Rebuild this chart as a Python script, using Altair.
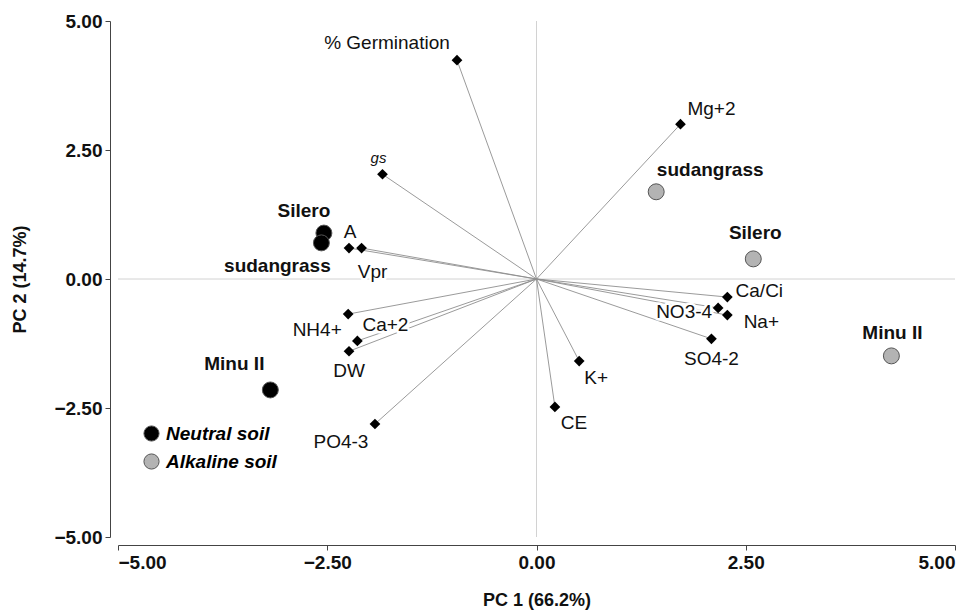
import altair as alt
import pandas as pd

# ---------------- data ----------------
var_names = ["% Germination", "gs", "A", "Vpr", "NH4+", "Ca+2", "DW", "PO4-3",
             "Mg+2", "Ca/Ci", "NO3-4", "Na+", "SO4-2", "K+", "CE"]
var_pc1 = [-0.95, -1.84, -2.24, -2.09, -2.25, -2.14, -2.24, -1.93,
           1.72, 2.28, 2.17, 2.28, 2.09, 0.51, 0.22]
var_pc2 = [4.24, 2.03, 0.60, 0.60, -0.68, -1.20, -1.40, -2.81,
           3.00, -0.35, -0.56, -0.70, -1.16, -1.59, -2.48]

sample_names = ["Silero", "sudangrass", "Minu II", "sudangrass", "Silero", "Minu II"]
sample_soil = ["Neutral soil", "Neutral soil", "Neutral soil",
               "Alkaline soil", "Alkaline soil", "Alkaline soil"]
sample_pc1 = [-2.54, -2.57, -3.18, 1.43, 2.59, 4.24]
sample_pc2 = [0.89, 0.70, -2.15, 1.69, 0.39, -1.49]

soil_types = ["Neutral soil", "Alkaline soil"]
axis_ticks = [-5, -2.5, 0, 2.5, 5]

# ---------------- style (label placement in pixels) ----------------
var_label_offsets = [(-70, -17), (-4, -16), (1, -16), (11, 24), (-31, 16), (28, -16),
                     (0, 20), (-34, 18), (31, -15), (32, -6), (-34, 4), (34, 7),
                     (0, 20), (17, 17), (19, 16)]
var_label_italic = [False, True] + [False] * 13
sample_label_offsets = [(-20, -22), (-44, 23), (-36, -26), (54, -22), (2, -26), (1, -23)]

FONT = "Liberation Sans"
LABEL_SIZE = 19

var_df = pd.DataFrame({"idx": list(range(len(var_names))), "name": var_names,
                       "pc1": var_pc1, "pc2": var_pc2})
smp_df = pd.DataFrame({"idx": list(range(len(sample_names))), "name": sample_names,
                       "soil": sample_soil, "pc1": sample_pc1, "pc2": sample_pc2})
zero_df = pd.DataFrame({"pc1": [0], "pc2": [0]})


def X(field):
    return alt.X(f"{field}:Q", scale=alt.Scale(domain=[-5, 5], nice=False, zero=False),
                 axis=alt.Axis(values=axis_ticks, format=".2f", title="PC 1 (66.2%)",
                               grid=False, offset=8, tickSize=5, labelPadding=3,
                               titlePadding=19))


def Y(field):
    return alt.Y(f"{field}:Q", scale=alt.Scale(domain=[-5, 5], nice=False, zero=False),
                 axis=alt.Axis(values=axis_ticks, format=".2f", title="PC 2 (14.7%)",
                               grid=False, offset=8, tickSize=5, labelPadding=3,
                               titlePadding=24))


zero_v = alt.Chart(zero_df).mark_rule(color="#d2d2d2", strokeWidth=1).encode(x=X("pc1"))
zero_h = alt.Chart(zero_df).mark_rule(color="#d2d2d2", strokeWidth=1).encode(y=Y("pc2"))

vectors = alt.Chart(var_df).mark_rule(color="#8f8f8f", strokeWidth=0.9).encode(
    x=X("pc1"), y=Y("pc2"), x2=alt.datum(0), y2=alt.datum(0))

layers = [zero_v, zero_h, vectors]

# label halos for variables (white boxes that break the lines behind the text)
for i, (dx, dy) in enumerate(var_label_offsets):
    italic = var_label_italic[i]
    fs = 15 if italic else LABEL_SIZE
    base = alt.Chart(var_df).transform_filter(alt.FieldEqualPredicate(field="idx", equal=i))
    halo = base.mark_text(dx=dx, dy=dy, font=FONT, fontSize=fs,
                          fontStyle="italic" if italic else "normal",
                          align="center", baseline="middle", color="white",
                          stroke="white", strokeWidth=5, strokeJoin="round").encode(
        x=X("pc1"), y=Y("pc2"), text="name:N")
    layers.append(halo)

diamonds = alt.Chart(var_df).mark_point(shape="diamond", filled=True, color="black",
                                        size=115, opacity=1).encode(x=X("pc1"), y=Y("pc2"))
layers.append(diamonds)

for i, (dx, dy) in enumerate(var_label_offsets):
    italic = var_label_italic[i]
    fs = 15 if italic else LABEL_SIZE
    base = alt.Chart(var_df).transform_filter(alt.FieldEqualPredicate(field="idx", equal=i))
    txt = base.mark_text(dx=dx, dy=dy, font=FONT, fontSize=fs,
                         fontStyle="italic" if italic else "normal",
                         align="center", baseline="middle", color="#111").encode(
        x=X("pc1"), y=Y("pc2"), text="name:N")
    layers.append(txt)

circles = alt.Chart(smp_df).mark_circle(size=255, stroke="#555555", strokeWidth=1,
                                        opacity=1).encode(
    x=X("pc1"), y=Y("pc2"),
    color=alt.Color("soil:N", scale=alt.Scale(domain=soil_types, range=["#000000", "#b3b3b3"]),
                    legend=alt.Legend(title=None, orient="none", legendX=24, legendY=403,
                                      symbolType="circle", symbolSize=230,
                                      symbolStrokeColor="#555555", symbolStrokeWidth=1,
                                      symbolOpacity=1,
                                      labelFont=FONT, labelFontSize=LABEL_SIZE,
                                      labelFontWeight="bold",
                                      labelFontStyle="italic", labelColor="black",
                                      labelOffset=5, rowPadding=7, padding=0)))
layers.append(circles)

for i, (dx, dy) in enumerate(sample_label_offsets):
    base = alt.Chart(smp_df).transform_filter(alt.FieldEqualPredicate(field="idx", equal=i))
    txt = base.mark_text(dx=dx, dy=dy, font=FONT, fontSize=LABEL_SIZE, fontWeight="bold",
                         align="center", baseline="middle", color="#111").encode(
        x=X("pc1"), y=Y("pc2"), text="name:N")
    layers.append(txt)

chart = alt.layer(*layers).properties(
    width=837, height=516,
    autosize=alt.AutoSizeParams(type="none"),
    padding={"left": 118, "top": 21, "right": 19, "bottom": 73},
    background="white",
).configure_view(stroke="transparent").configure_axis(
    labelFont=FONT, titleFont=FONT, labelFontSize=19, titleFontSize=18,
    labelFontWeight="bold", titleFontWeight="bold", labelColor="#111", titleColor="#111",
    domainColor="#444444", tickColor="#444444", domainWidth=1, tickWidth=1,
)

chart.save("out.html", embed_options={"renderer": "svg", "actions": False})
